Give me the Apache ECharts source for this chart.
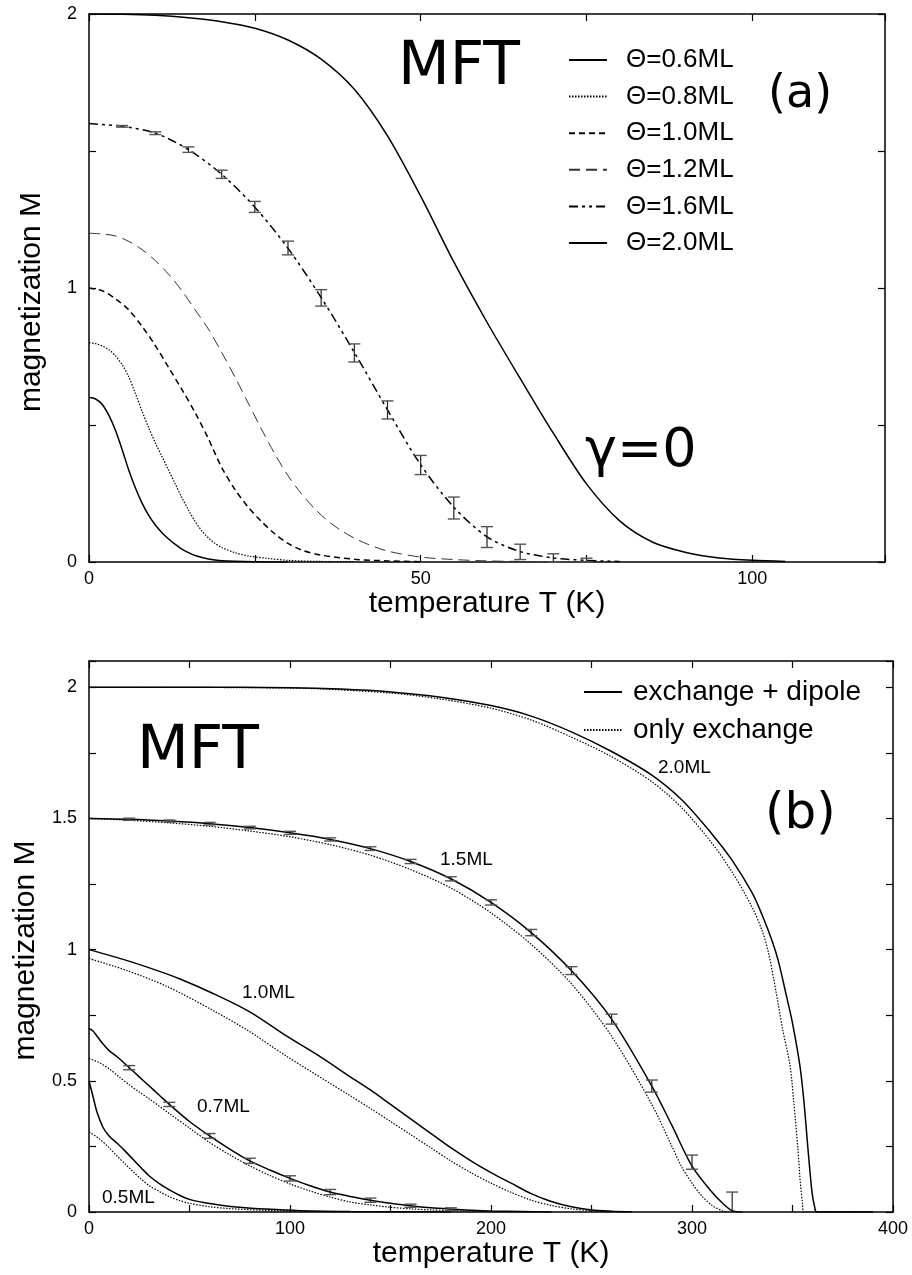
<!DOCTYPE html>
<html>
<head>
<meta charset="utf-8">
<script src="https://cdn.jsdelivr.net/npm/echarts@6/dist/echarts.min.js"></script>
<style>
  html, body { margin: 0; padding: 0; background: #fff; }
  #chart { width: 912px; height: 1275px; }
</style>
</head>
<body>
<div id="chart"></div>
<script>
// ---------- panel (a): magnetization vs T, gamma = 0 ----------
var a06T = [0, 1, 2, 3, 4, 5, 6, 7, 8, 9, 10, 11, 12, 13, 14, 15, 16, 18, 20, 25, 30];
var a06M = [0.6, 0.595, 0.575, 0.535, 0.48, 0.41, 0.335, 0.27, 0.215, 0.17, 0.135, 0.107, 0.084, 0.064, 0.047, 0.034, 0.024, 0.011, 0.005, 0.001, 0];

var a08T = [0, 1, 2, 3, 4, 5, 6, 7, 8, 9, 10, 11, 12, 13, 14, 15, 16, 17, 18, 19, 20, 22, 24, 27, 30, 35, 40];
var a08M = [0.8, 0.797, 0.788, 0.775, 0.752, 0.72, 0.675, 0.615, 0.55, 0.49, 0.435, 0.385, 0.335, 0.285, 0.235, 0.19, 0.148, 0.114, 0.088, 0.068, 0.053, 0.034, 0.022, 0.013, 0.006, 0.002, 0.001];

var a10T = [0, 2, 4, 6, 8, 10, 12, 14, 16, 18, 20, 22, 24, 26, 28, 30, 32, 35, 40, 45, 50];
var a10M = [1.0, 0.99, 0.96, 0.92, 0.86, 0.79, 0.71, 0.63, 0.545, 0.45, 0.345, 0.265, 0.2, 0.148, 0.103, 0.068, 0.044, 0.025, 0.01, 0.004, 0.001];

var a12T = [0, 2, 4, 6, 8, 10, 12, 14, 16, 18, 20, 22, 24, 26, 28, 30, 32, 34, 36, 38, 40, 42, 45, 50, 55, 60, 65, 70];
var a12M = [1.2, 1.197, 1.19, 1.17, 1.14, 1.1, 1.05, 0.99, 0.92, 0.85, 0.765, 0.675, 0.58, 0.485, 0.395, 0.315, 0.25, 0.195, 0.15, 0.115, 0.087, 0.065, 0.04, 0.018, 0.009, 0.004, 0.002, 0.001];

var a16T = [0, 5, 10, 15, 20, 25, 30, 35, 40, 45, 50, 55, 60, 65, 70, 75, 80];
var a16M = [1.6, 1.59, 1.565, 1.505, 1.415, 1.295, 1.145, 0.965, 0.765, 0.555, 0.355, 0.2, 0.092, 0.038, 0.015, 0.006, 0.002];

var a20T = [0, 5, 10, 15, 20, 25, 30, 35, 40, 45, 50, 55, 60, 65, 70, 75, 80, 85, 90, 95, 100, 105];
var a20M = [2.0, 1.999, 1.995, 1.986, 1.972, 1.948, 1.905, 1.835, 1.725, 1.555, 1.335, 1.095, 0.875, 0.67, 0.47, 0.285, 0.15, 0.072, 0.035, 0.015, 0.006, 0.002];

// simulation points with error bars on the 1.6ML curve
var a16ErrT = [5, 10, 15, 20, 25, 30, 35, 40, 45, 50, 55, 60, 65, 70, 75];
var a16ErrM = [1.59, 1.565, 1.505, 1.415, 1.296, 1.146, 0.964, 0.763, 0.555, 0.354, 0.197, 0.091, 0.037, 0.015, 0.007];
var a16ErrD = [0.003, 0.005, 0.01, 0.015, 0.02, 0.025, 0.03, 0.033, 0.033, 0.035, 0.04, 0.038, 0.028, 0.015, 0.007];

var aNames = ['Θ=0.6ML', 'Θ=0.8ML', 'Θ=1.0ML', 'Θ=1.2ML', 'Θ=1.6ML', 'Θ=2.0ML'];

// ---------- panel (b): exchange + dipole vs only exchange ----------
var b05T = [0, 2, 4, 7, 10, 14, 18, 22, 26, 30, 35, 40, 45, 50, 57, 64, 75, 88, 105, 130, 160, 180];
var b05M = [0.5, 0.44, 0.38, 0.322, 0.29, 0.262, 0.232, 0.2, 0.168, 0.137, 0.108, 0.084, 0.064, 0.048, 0.036, 0.028, 0.018, 0.011, 0.005, 0.002, 0.001, 0];
var b05oT = [0, 5, 10, 14, 18, 22, 26, 30, 35, 40, 45, 50, 60, 70, 85, 100, 130, 160];
var b05oM = [0.305, 0.28, 0.245, 0.213, 0.183, 0.153, 0.125, 0.1, 0.078, 0.058, 0.044, 0.033, 0.02, 0.013, 0.007, 0.004, 0.001, 0];

var b07T = [0, 2, 4, 7, 10, 15, 20, 25, 30, 35, 40, 50, 60, 70, 80, 90, 100, 110, 120, 130, 140, 150, 160, 170, 180, 190, 200, 215, 230];
var b07M = [0.7, 0.69, 0.67, 0.64, 0.615, 0.585, 0.55, 0.515, 0.48, 0.445, 0.41, 0.345, 0.29, 0.24, 0.195, 0.16, 0.128, 0.1, 0.076, 0.059, 0.045, 0.033, 0.024, 0.016, 0.011, 0.007, 0.004, 0.002, 0];
var b07oT = [0, 5, 10, 15, 20, 25, 30, 40, 50, 60, 70, 80, 90, 100, 110, 120, 130, 140, 150, 160, 170, 180, 200, 220];
var b07oM = [0.585, 0.57, 0.546, 0.515, 0.485, 0.457, 0.431, 0.375, 0.32, 0.265, 0.218, 0.176, 0.139, 0.107, 0.08, 0.057, 0.038, 0.027, 0.018, 0.012, 0.008, 0.005, 0.002, 0];

var b10T = [0, 19, 34, 45, 62, 80, 98, 115, 130, 140, 150, 160, 170, 180, 190, 200, 210, 220, 230, 240, 250, 260, 270];
var b10M = [1.0, 0.958, 0.92, 0.889, 0.832, 0.763, 0.672, 0.592, 0.515, 0.465, 0.41, 0.355, 0.3, 0.245, 0.195, 0.15, 0.11, 0.07, 0.04, 0.02, 0.008, 0.003, 0];
var b10oT = [0, 19, 39, 62, 80, 98, 130, 140, 150, 160, 170, 180, 190, 200, 210, 220, 230, 240, 250, 260];
var b10oM = [0.966, 0.92, 0.859, 0.767, 0.687, 0.595, 0.443, 0.395, 0.345, 0.295, 0.245, 0.195, 0.15, 0.11, 0.075, 0.045, 0.025, 0.012, 0.005, 0];

var b15T = [0, 20, 40, 60, 80, 100, 120, 140, 160, 180, 200, 220, 240, 260, 280, 290, 300, 310, 315, 320, 325];
var b15M = [1.5, 1.497, 1.49, 1.48, 1.465, 1.445, 1.42, 1.385, 1.336, 1.27, 1.18, 1.065, 0.92, 0.735, 0.48, 0.33, 0.175, 0.075, 0.035, 0.005, 0];
var b15oT = [0, 20, 40, 60, 80, 100, 120, 140, 160, 180, 200, 220, 240, 260, 280, 290, 295, 300, 305, 310, 315, 318];
var b15oM = [1.5, 1.493, 1.483, 1.47, 1.452, 1.43, 1.4, 1.36, 1.305, 1.235, 1.14, 1.02, 0.87, 0.67, 0.41, 0.25, 0.17, 0.11, 0.06, 0.025, 0.005, 0];

var b20T = [0, 50, 100, 125, 150, 175, 200, 220, 240, 260, 280, 295, 310, 320, 330, 335, 340, 343, 347.3, 350, 353.7, 355.7, 357.7, 359.7, 361, 362, 390];
var b20M = [2.0, 2.0, 1.998, 1.993, 1.982, 1.962, 1.93, 1.89, 1.83, 1.755, 1.665, 1.57, 1.44, 1.34, 1.215, 1.13, 1.03, 0.955, 0.813, 0.72, 0.557, 0.42, 0.24, 0.076, 0.02, 0, 0];
var b20oT = [0, 100, 150, 175, 200, 220, 240, 260, 280, 295, 310, 320, 330, 335, 338, 341.8, 345, 348.8, 350.5, 352.7, 353.8, 355, 355.5, 390];
var b20oM = [2.0, 1.997, 1.978, 1.955, 1.92, 1.875, 1.81, 1.735, 1.64, 1.54, 1.405, 1.295, 1.16, 1.07, 0.99, 0.84, 0.7, 0.557, 0.43, 0.24, 0.12, 0.03, 0, 0];

var b15ErrT = [20, 40, 60, 80, 100, 120, 140, 160, 180, 200, 220, 240, 260, 280, 300, 320];
var b15ErrM = [1.497, 1.49, 1.48, 1.465, 1.445, 1.42, 1.385, 1.336, 1.27, 1.18, 1.065, 0.92, 0.735, 0.48, 0.19, 0];
var b15ErrD = [0.004, 0.004, 0.005, 0.005, 0.006, 0.006, 0.007, 0.008, 0.008, 0.01, 0.012, 0.015, 0.019, 0.023, 0.027, 0.076];

var b07ErrT = [20, 40, 60, 80, 100, 120, 140, 160, 180];
var b07ErrM = [0.55, 0.41, 0.29, 0.195, 0.128, 0.076, 0.045, 0.024, 0.011];
var b07ErrD = [0.008, 0.008, 0.009, 0.01, 0.01, 0.01, 0.008, 0.006, 0.005];

var bNames = ['exchange + dipole', 'only exchange'];

// ---------- helpers ----------
function pairs(xs, ys) {
  return xs.map(function (x, i) { return [x, ys[i]]; });
}
function triples(xs, ys, ds) {
  return xs.map(function (x, i) { return [x, ys[i], ds[i]]; });
}
function lineSeries(name, xs, ys, grid, style) {
  return {
    name: name, type: 'line', xAxisIndex: grid * 2, yAxisIndex: grid * 2,
    data: pairs(xs, ys), symbol: 'none', smooth: 0.3, silent: true,
    itemStyle: { color: '#000' }, lineStyle: style, z: 3
  };
}
function errRender(params, api) {
  var x = api.value(0), y = api.value(1), e = api.value(2);
  var lo = Math.max(y - e, 0);
  var top = api.coord([x, y + e]);
  var bot = api.coord([x, lo]);
  var w = 6;
  var kids = [
    { type: 'line', shape: { x1: top[0], y1: top[1], x2: bot[0], y2: bot[1] }, style: { stroke: '#222', lineWidth: 1.2 } },
    { type: 'line', shape: { x1: top[0] - w, y1: top[1], x2: top[0] + w, y2: top[1] }, style: { stroke: '#555', lineWidth: 1.4 } }
  ];
  if (y - e >= 0) {
    kids.push({ type: 'line', shape: { x1: bot[0] - w, y1: bot[1], x2: bot[0] + w, y2: bot[1] }, style: { stroke: '#555', lineWidth: 1.4 } });
  }
  return { type: 'group', children: kids };
}
function errSeries(xs, ys, ds, grid) {
  return {
    type: 'custom', xAxisIndex: grid * 2, yAxisIndex: grid * 2, silent: true,
    data: triples(xs, ys, ds), renderItem: errRender, encode: { x: 0, y: 1 }, z: 4
  };
}

var solid = { color: '#000', width: 1.5, type: 'solid' };
var dotted = { color: '#000', width: 1.2, type: [1.5, 1.5] };
var tickFont = { fontFamily: 'Liberation Sans', fontSize: 18, color: '#000' };
var titleFont = { fontFamily: 'Liberation Sans', fontSize: 30, color: '#000' };
var yTitleFont = { fontFamily: 'Liberation Sans', fontSize: 30, color: '#000', padding: [0, 28, 0, 0] };
var axisLine = { show: true, onZero: false, lineStyle: { color: '#000', width: 1.5 } };
var tickIn = { show: true, inside: true, length: 7, lineStyle: { color: '#000', width: 1.2 } };

function near(v, step) { return Math.abs(v / step - Math.round(v / step)) < 1e-6; }

var chart = echarts.init(document.getElementById('chart'));
chart.setOption({
  animation: false,
  backgroundColor: '#fff',
  grid: [
    { left: 89, top: 14, right: 27, height: 548 },
    { left: 89, top: 661, right: 19, height: 551 }
  ],
  xAxis: [
    { gridIndex: 0, type: 'value', min: 0, max: 120, interval: 25, position: 'bottom',
      name: 'temperature T (K)', nameLocation: 'middle', nameGap: 2, nameTextStyle: titleFont,
      axisLine: axisLine, axisTick: tickIn, splitLine: { show: false },
      axisLabel: { margin: 8, formatter: function (v) { return near(v, 50) ? String(v) : ''; }, textStyle: tickFont } },
    { gridIndex: 0, type: 'value', min: 0, max: 120, interval: 25, position: 'top',
      axisLine: axisLine, axisTick: tickIn, splitLine: { show: false }, axisLabel: { show: false } },
    { gridIndex: 1, type: 'value', min: 0, max: 400, interval: 50, position: 'bottom',
      name: 'temperature T (K)', nameLocation: 'middle', nameGap: 21, nameTextStyle: titleFont,
      axisLine: axisLine, axisTick: tickIn, splitLine: { show: false },
      axisLabel: { margin: 8, formatter: function (v) { return near(v, 100) ? String(v) : ''; }, textStyle: tickFont } },
    { gridIndex: 1, type: 'value', min: 0, max: 400, interval: 50, position: 'top',
      axisLine: axisLine, axisTick: tickIn, splitLine: { show: false }, axisLabel: { show: false } }
  ],
  yAxis: [
    { gridIndex: 0, type: 'value', min: 0, max: 2, interval: 0.5, position: 'left',
      name: 'magnetization M', nameLocation: 'middle', nameGap: 42, nameTextStyle: yTitleFont,
      axisLine: axisLine, axisTick: tickIn, splitLine: { show: false },
      axisLabel: { margin: 12, formatter: function (v) { return near(v, 1) ? String(v) : ''; }, textStyle: tickFont } },
    { gridIndex: 0, type: 'value', min: 0, max: 2, interval: 0.5, position: 'right',
      axisLine: axisLine, axisTick: tickIn, splitLine: { show: false }, axisLabel: { show: false } },
    { gridIndex: 1, type: 'value', min: 0, max: 2.1, interval: 0.25, position: 'left',
      name: 'magnetization M', nameLocation: 'middle', nameGap: 42, nameTextStyle: yTitleFont,
      axisLine: axisLine, axisTick: tickIn, splitLine: { show: false },
      axisLabel: { margin: 12, formatter: function (v) { return near(v, 0.5) ? String(v) : ''; }, textStyle: tickFont } },
    { gridIndex: 1, type: 'value', min: 0, max: 2.1, interval: 0.25, position: 'right',
      axisLine: axisLine, axisTick: tickIn, splitLine: { show: false }, axisLabel: { show: false } }
  ],
  legend: [
    { data: aNames, orient: 'vertical', left: 563, top: 42, itemWidth: 38, itemHeight: 12, itemGap: 10.6,
      selectedMode: false, itemStyle: { opacity: 0 },
      textStyle: { fontFamily: 'Liberation Sans', fontSize: 26, lineHeight: 26, color: '#000', padding: [0, 0, 0, 14] } },
    { data: bNames, orient: 'vertical', left: 578, top: 673, itemWidth: 38, itemHeight: 12, itemGap: 10,
      selectedMode: false, itemStyle: { opacity: 0 },
      textStyle: { fontFamily: 'Liberation Sans', fontSize: 28, lineHeight: 28, color: '#000', padding: [0, 0, 0, 6] } }
  ],
  graphic: [
    { type: 'text', left: 398, top: 38, style: { text: 'MFT', font: '60px "DejaVu Sans"', fill: '#000' } },
    { type: 'text', left: 768, top: 72, style: { text: '(a)', font: '46px "DejaVu Sans"', fill: '#000' } },
    { type: 'text', left: 585, top: 425, style: { text: 'γ=0', font: '54px "DejaVu Sans"', fill: '#000' } },
    { type: 'text', left: 137, top: 722, style: { text: 'MFT', font: '60px "DejaVu Sans"', fill: '#000' } },
    { type: 'text', left: 765, top: 790, style: { text: '(b)', font: '50px "DejaVu Sans"', fill: '#000' } },
    { type: 'text', left: 658, top: 758, style: { text: '2.0ML', font: '19px "Liberation Sans"', fill: '#000' } },
    { type: 'text', left: 440, top: 850, style: { text: '1.5ML', font: '19px "Liberation Sans"', fill: '#000' } },
    { type: 'text', left: 242, top: 983, style: { text: '1.0ML', font: '19px "Liberation Sans"', fill: '#000' } },
    { type: 'text', left: 197, top: 1097, style: { text: '0.7ML', font: '19px "Liberation Sans"', fill: '#000' } },
    { type: 'text', left: 102, top: 1188, style: { text: '0.5ML', font: '19px "Liberation Sans"', fill: '#000' } }
  ],
  series: [
    lineSeries(aNames[0], a06T, a06M, 0, solid),
    lineSeries(aNames[1], a08T, a08M, 0, dotted),
    lineSeries(aNames[2], a10T, a10M, 0, { color: '#000', width: 1.5, type: [6, 4] }),
    lineSeries(aNames[3], a12T, a12M, 0, { color: '#333', width: 1, type: [11, 6] }),
    lineSeries(aNames[4], a16T, a16M, 0, { color: '#000', width: 1.5, type: [9, 4, 3, 4, 3, 4] }),
    lineSeries(aNames[5], a20T, a20M, 0, solid),
    errSeries(a16ErrT, a16ErrM, a16ErrD, 0),

    lineSeries(bNames[0], b20T, b20M, 1, solid),
    lineSeries(bNames[1], b20oT, b20oM, 1, dotted),
    lineSeries(bNames[0], b15T, b15M, 1, solid),
    lineSeries(bNames[1], b15oT, b15oM, 1, dotted),
    lineSeries(bNames[0], b10T, b10M, 1, solid),
    lineSeries(bNames[1], b10oT, b10oM, 1, dotted),
    lineSeries(bNames[0], b07T, b07M, 1, solid),
    lineSeries(bNames[1], b07oT, b07oM, 1, dotted),
    lineSeries(bNames[0], b05T, b05M, 1, solid),
    lineSeries(bNames[1], b05oT, b05oM, 1, dotted),
    errSeries(b15ErrT, b15ErrM, b15ErrD, 1),
    errSeries(b07ErrT, b07ErrM, b07ErrD, 1)
  ]
});
</script>
</body>
</html>
